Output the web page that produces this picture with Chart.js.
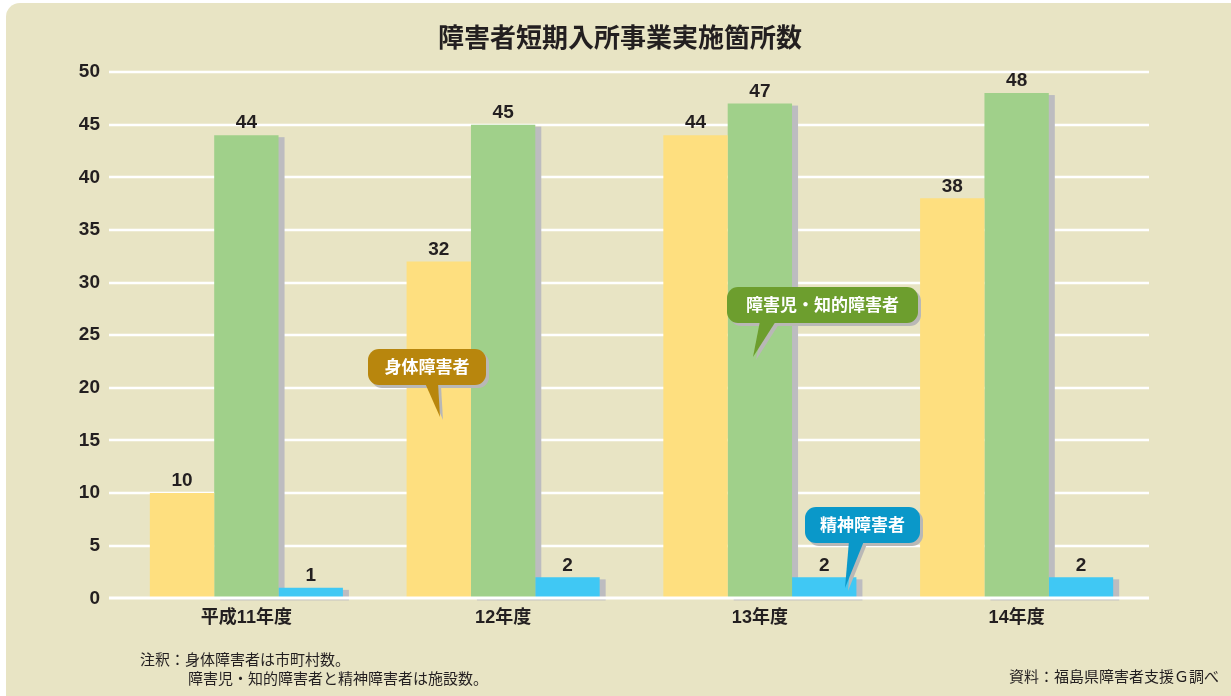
<!DOCTYPE html>
<html lang="ja">
<head>
<meta charset="utf-8">
<title>障害者短期入所事業実施箇所数</title>
<script src="https://cdn.jsdelivr.net/npm/chart.js@4.4.1/dist/chart.umd.min.js"></script>
<style>
  html, body { margin: 0; padding: 0; background: #fff; overflow: hidden; }
  .card {
    position: absolute; left: 6px; top: 3px; width: 1250px; height: 720px;
    background: #e8e4c4; border-radius: 14px;
  }
  .wrap { position: absolute; left: 0; top: 0; width: 1231px; height: 696px; }
</style>
</head>
<body>
<div class="card"></div>
<div class="wrap"><canvas id="chart"></canvas></div>
<script>
const years = ['平成11年度', '12年度', '13年度', '14年度'];
const physical = [10, 32, 44, 38];     // 身体障害者（市町村数）
const intellectual = [44, 45, 47, 48]; // 障害児・知的障害者（施設数）
const mental = [1, 2, 2, 2];           // 精神障害者（施設数）
const yTicks = [0, 5, 10, 15, 20, 25, 30, 35, 40, 45, 50];

const FONT = '"Liberation Sans", Arial, "Noto Sans CJK JP", sans-serif';
const INK = '#231f20';

// callout bubbles: box + tail, in canvas pixels
const callouts = [
  { text: '身体障害者', color: '#b8860d', x: 368, y: 349, w: 118, h: 36, tail: [[425, 385], [438, 385], [440, 417]] },
  { text: '障害児・知的障害者', color: '#6d9e2e', x: 727, y: 287, w: 191, h: 36, tail: [[760, 323], [776, 323], [753, 357]] },
  { text: '精神障害者', color: '#0a98c9', x: 805, y: 507, w: 115, h: 36, tail: [[849, 543], [864, 543], [845, 588]] }
];

function roundRect(ctx, x, y, w, h, r) {
  ctx.beginPath();
  ctx.moveTo(x + r, y);
  ctx.arcTo(x + w, y, x + w, y + h, r);
  ctx.arcTo(x + w, y + h, x, y + h, r);
  ctx.arcTo(x, y + h, x, y, r);
  ctx.arcTo(x, y, x + w, y, r);
  ctx.closePath();
}

function drawBubble(ctx, c, dx, dy, fill) {
  ctx.fillStyle = fill;
  roundRect(ctx, c.x + dx, c.y + dy, c.w, c.h, 11);
  ctx.fill();
  ctx.beginPath();
  ctx.moveTo(c.tail[0][0] + dx, c.tail[0][1] + dy - 2);
  ctx.lineTo(c.tail[1][0] + dx, c.tail[1][1] + dy - 2);
  ctx.lineTo(c.tail[2][0] + dx, c.tail[2][1] + dy);
  ctx.closePath();
  ctx.fill();
}

const decor = {
  id: 'decor',
  beforeDatasetsDraw(chart) {
    const { ctx, scales: { y } } = chart;
    ctx.save();
    ctx.strokeStyle = '#ffffff';
    ctx.lineWidth = 2.5;
    yTicks.forEach(v => {
      if (v === 0) return;
      const py = Math.round(y.getPixelForValue(v));
      ctx.beginPath();
      ctx.moveTo(109, py);
      ctx.lineTo(1149, py);
      ctx.stroke();
    });
    // gray drop shadows behind the green and blue bars
    ctx.fillStyle = '#bdbcc0';
    [1, 2].forEach(i => {
      chart.getDatasetMeta(i).data.forEach(bar => {
        ctx.fillRect(bar.x - bar.width / 2 + 6, bar.y + 2, bar.width, bar.base - bar.y);
      });
    });
    ctx.restore();
  },
  afterDatasetsDraw(chart) {
    const { ctx, scales: { y } } = chart;
    ctx.save();
    // baseline over the bars
    const py0 = Math.round(y.getPixelForValue(0));
    ctx.strokeStyle = '#ffffff';
    ctx.lineWidth = 3;
    ctx.beginPath();
    ctx.moveTo(109, py0);
    ctx.lineTo(1149, py0);
    ctx.stroke();

    // value labels
    ctx.fillStyle = INK;
    ctx.font = 'bold 19px ' + FONT;
    ctx.textAlign = 'center';
    ctx.textBaseline = 'middle';
    chart.data.datasets.forEach((ds, i) => {
      chart.getDatasetMeta(i).data.forEach((bar, j) => {
        ctx.fillText(String(ds.data[j]), bar.x, bar.y - 12);
      });
    });
    ctx.restore();
  },
  afterDraw(chart) {
    const ctx = chart.ctx;
    ctx.save();
    // title
    ctx.fillStyle = INK;
    ctx.font = 'bold 26px ' + FONT;
    ctx.textAlign = 'center';
    ctx.textBaseline = 'middle';
    ctx.fillText('障害者短期入所事業実施箇所数', 620, 40);

    // bubbles
    callouts.forEach(c => {
      drawBubble(ctx, c, 3, 3, '#b9b8b6');
      drawBubble(ctx, c, 0, 0, c.color);
      ctx.fillStyle = '#ffffff';
      ctx.font = 'bold 17px ' + FONT;
      ctx.textAlign = 'center';
      ctx.textBaseline = 'middle';
      ctx.fillText(c.text, c.x + c.w / 2, c.y + c.h / 2 + 1);
    });

    // notes
    ctx.fillStyle = INK;
    ctx.font = '15px ' + FONT;
    ctx.textAlign = 'left';
    ctx.textBaseline = 'middle';
    ctx.fillText('注釈：身体障害者は市町村数。', 140, 661);
    ctx.fillText('障害児・知的障害者と精神障害者は施設数。', 188, 680);
    ctx.textAlign = 'right';
    ctx.fillText('資料：福島県障害者支援Ｇ調べ', 1219, 678);
    ctx.restore();
  }
};

new Chart(document.getElementById('chart'), {
  type: 'bar',
  data: {
    labels: years,
    datasets: [
      { label: '身体障害者', data: physical, backgroundColor: '#fedf7f' },
      { label: '障害児・知的障害者', data: intellectual, backgroundColor: '#a0d08a' },
      { label: '精神障害者', data: mental, backgroundColor: '#40c8f4' }
    ]
  },
  options: {
    responsive: true,
    maintainAspectRatio: false,
    animation: false,
    events: [],
    layout: { padding: { top: 72, right: 86, bottom: 58, left: 0 } },
    datasets: { bar: { categoryPercentage: 0.752, barPercentage: 1, borderWidth: 0 } },
    plugins: { legend: { display: false }, title: { display: false }, tooltip: { enabled: false } },
    scales: {
      x: {
        grid: { display: false, drawTicks: false },
        border: { display: false },
        ticks: { color: INK, font: { family: FONT, size: 18, weight: 'bold' }, padding: 9 }
      },
      y: {
        min: 0, max: 50,
        afterFit(scale) { scale.width = 118; },
        afterBuildTicks(scale) { scale.ticks = yTicks.map(v => ({ value: v })); },
        grid: { display: false, drawTicks: false },
        border: { display: false },
        ticks: { color: INK, font: { family: FONT, size: 19, weight: 'bold' }, padding: 18 }
      }
    }
  },
  plugins: [decor]
});
</script>
</body>
</html>
